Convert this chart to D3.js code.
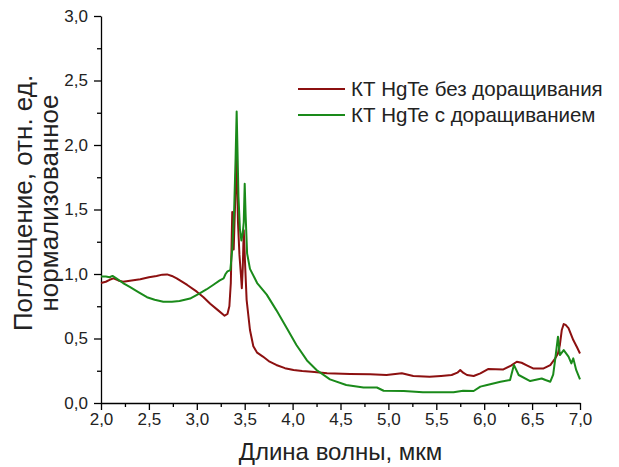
<!DOCTYPE html>
<meta charset="utf-8">
<script src="https://cdnjs.cloudflare.com/ajax/libs/d3/7.8.5/d3.min.js"></script>
<style>

body {
  margin: 0;
  background: #fff;
}

text {
  font-family: "Liberation Sans", Arial, sans-serif;
  fill: #222;
}

.axis path,
.axis line {
  stroke: #000;
  stroke-width: 1.3px;
}

.curve {
  fill: none;
  stroke-width: 2px;
  stroke-linejoin: round;
}

</style>
<body>
<script>

// Chart size.
var width = 619,
    height = 467;

var margin = {top: 16, right: 39, bottom: 64, left: 101};

// Series: quantum dots without / with growth.
var seriesNames = ["КТ HgTe без доращивания", "КТ HgTe с доращиванием"];
var seriesColors = ["#8c1010", "#1a8a1a"];

var redX = [2.00, 2.05, 2.09, 2.13, 2.18, 2.23, 2.32, 2.41, 2.50, 2.58, 2.64, 2.69, 2.74, 2.79, 2.90,
  3.00, 3.07, 3.14, 3.22, 3.29, 3.32, 3.34, 3.355, 3.37, 3.385, 3.40, 3.415, 3.43, 3.445, 3.46, 3.47,
  3.48, 3.49, 3.505, 3.52, 3.555, 3.59, 3.63, 3.69, 3.76, 3.83, 3.92, 4.01, 4.10, 4.20, 4.36, 4.60,
  4.81, 4.98, 5.14, 5.26, 5.43, 5.55, 5.66, 5.72, 5.75, 5.78, 5.82, 5.89, 5.96, 6.04, 6.20, 6.28,
  6.34, 6.39, 6.45, 6.51, 6.62, 6.69, 6.74, 6.77, 6.79, 6.81, 6.83, 6.85, 6.88, 6.93, 6.97, 7.00];
var redY = [0.93, 0.94, 0.955, 0.966, 0.95, 0.94, 0.95, 0.96, 0.975, 0.985, 0.995, 0.997, 0.985, 0.966, 0.915,
  0.863, 0.82, 0.77, 0.72, 0.677, 0.69, 0.75, 0.93, 1.48, 1.19, 1.55, 1.95, 1.40, 1.15, 1.00, 0.89,
  1.05, 1.34, 1.06, 0.80, 0.566, 0.44, 0.39, 0.36, 0.32, 0.295, 0.27, 0.256, 0.248, 0.243, 0.23, 0.225,
  0.222, 0.217, 0.23, 0.21, 0.204, 0.21, 0.217, 0.235, 0.256, 0.235, 0.217, 0.209, 0.23, 0.263, 0.26, 0.29,
  0.32, 0.312, 0.29, 0.268, 0.268, 0.294, 0.345, 0.384, 0.45, 0.566, 0.612, 0.605, 0.58, 0.488, 0.43, 0.384];

var greenX = [2.00, 2.05, 2.09, 2.12, 2.16, 2.23, 2.30, 2.39, 2.48, 2.56, 2.65, 2.74, 2.82, 2.93, 3.03,
  3.10, 3.17, 3.24, 3.28, 3.30, 3.32, 3.35, 3.37, 3.39, 3.405, 3.416, 3.425, 3.435, 3.45, 3.465, 3.48,
  3.49, 3.50, 3.51, 3.525, 3.555, 3.63, 3.73, 3.83, 3.94, 4.04, 4.15, 4.25, 4.39, 4.56, 4.74, 4.88,
  4.95, 5.16, 5.36, 5.68, 5.78, 5.89, 5.96, 6.03, 6.17, 6.27, 6.31, 6.36, 6.48, 6.60, 6.64, 6.69,
  6.72, 6.74, 6.77, 6.79, 6.83, 6.88, 6.91, 6.93, 6.96, 7.00];
var greenY = [0.98, 0.98, 0.975, 0.985, 0.966, 0.93, 0.90, 0.86, 0.82, 0.80, 0.785, 0.785, 0.79, 0.81, 0.85,
  0.88, 0.915, 0.95, 0.966, 1.00, 1.02, 1.03, 1.19, 1.50, 1.90, 2.26, 1.95, 1.60, 1.35, 1.26, 1.32,
  1.40, 1.70, 1.45, 1.16, 1.04, 0.93, 0.84, 0.72, 0.58, 0.45, 0.33, 0.256, 0.183, 0.14, 0.12, 0.12,
  0.095, 0.093, 0.083, 0.083, 0.095, 0.093, 0.127, 0.14, 0.165, 0.178, 0.295, 0.217, 0.17, 0.19, 0.178, 0.165,
  0.22, 0.333, 0.514, 0.372, 0.41, 0.36, 0.307, 0.346, 0.256, 0.183];

var xTicks = [2.0, 2.5, 3.0, 3.5, 4.0, 4.5, 5.0, 5.5, 6.0, 6.5, 7.0];
var yTicks = [0.0, 0.5, 1.0, 1.5, 2.0, 2.5, 3.0];

var svg = d3.select("body").append("svg")
    .attr("width", width)
    .attr("height", height);

var x = d3.scaleLinear()
    .domain([2, 7])
    .range([margin.left, width - margin.right]);

var y = d3.scaleLinear()
    .domain([0, 3])
    .range([height - margin.bottom, margin.top]);

// Decimal comma, like the original.
var fmt = function(d) { return d3.format(".1f")(d).replace(".", ","); };

// Minor ticks halfway between majors.
var xMinor = d3.range(2.25, 7, 0.5),
    yMinor = d3.range(0.25, 3, 0.5);

svg.append("g")
    .attr("class", "axis")
    .attr("transform", "translate(0," + y(0) + ")")
    .call(d3.axisBottom(x).tickValues(xMinor).tickSize(4).tickFormat(""))
    .select(".domain").remove();

var gx = svg.append("g")
    .attr("class", "axis")
    .attr("transform", "translate(0," + y(0) + ")")
    .call(d3.axisBottom(x).tickValues(xTicks).tickSize(7).tickSizeOuter(0).tickFormat(fmt).tickPadding(3));

svg.append("g")
    .attr("class", "axis")
    .attr("transform", "translate(" + x(2) + ",0)")
    .call(d3.axisLeft(y).tickValues(yMinor).tickSize(4).tickFormat(""))
    .select(".domain").remove();

var gy = svg.append("g")
    .attr("class", "axis")
    .attr("transform", "translate(" + x(2) + ",0)")
    .call(d3.axisLeft(y).tickValues(yTicks).tickSize(7).tickSizeOuter(0).tickFormat(fmt).tickPadding(6));

svg.selectAll(".axis text")
    .style("font-size", "17px")
    .style("font-family", "'Liberation Sans', Arial, sans-serif")
    .attr("fill", "#222");

// Curves.
var line = d3.line()
    .x(function(d) { return x(d[0]); })
    .y(function(d) { return y(d[1]); });

var series = [
  d3.zip(redX, redY),
  d3.zip(greenX, greenY)
];

svg.selectAll(".curve")
    .data(series)
  .enter().append("path")
    .attr("class", "curve")
    .attr("stroke", function(d, i) { return seriesColors[i]; })
    .attr("d", line);

// Legend.
var legend = svg.selectAll(".legend")
    .data(seriesNames)
  .enter().append("g")
    .attr("class", "legend")
    .attr("transform", function(d, i) { return "translate(298," + (89 + i * 26) + ")"; });

legend.append("line")
    .attr("x1", 0)
    .attr("x2", 47)
    .attr("stroke", function(d, i) { return seriesColors[i]; })
    .attr("stroke-width", 2);

legend.append("text")
    .attr("x", 53)
    .attr("dy", "0.35em")
    .style("font-size", "20.5px")
    .text(function(d) { return d; });

// Axis titles.
svg.append("text")
    .attr("x", x(4.5))
    .attr("y", 460)
    .attr("text-anchor", "middle")
    .style("font-size", "24px")
    .text("Длина волны, мкм");

var yt = svg.append("text")
    .attr("transform", "translate(0,203) rotate(-90)")
    .attr("text-anchor", "middle")
    .style("font-size", "26px");

yt.append("tspan")
    .attr("x", 0)
    .attr("y", 32)
    .text("Поглощение, отн. ед.");

yt.append("tspan")
    .attr("x", 0)
    .attr("y", 58)
    .text("нормализованное");

</script>
